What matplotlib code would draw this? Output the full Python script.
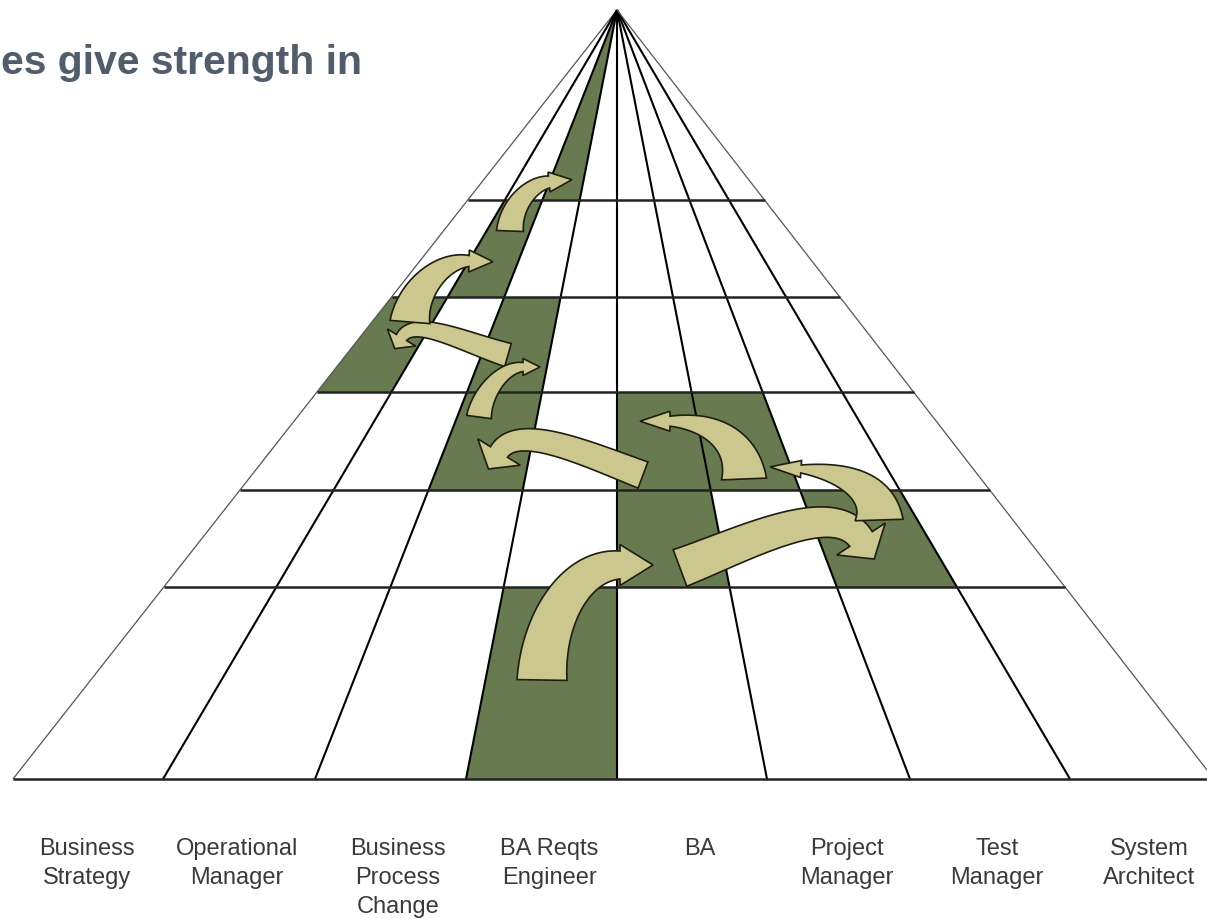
import numpy as np
import matplotlib
matplotlib.use("Agg")
import matplotlib.pyplot as plt
from matplotlib.patches import Polygon

# pyramid grid (pixel space, y down)
apex = (617, 10)
base_x = [13, 163, 315, 466, 617, 767, 910, 1070, 1214]
row_y = [10, 200, 297, 392, 490, 587, 779]

roles = ["Business\nStrategy", "Operational\nManager", "Business\nProcess\nChange",
         "BA Reqts\nEngineer", "BA", "Project\nManager", "Test\nManager", "System\nArchitect"]
role_x = [87, 237, 398, 549, 700, 847, 997, 1149]

# (row, column) cells filled green
shaded = [(0, 2), (1, 1), (2, 0), (2, 2), (3, 2), (3, 4), (3, 5), (4, 4), (4, 6), (5, 3)]

# career moves: tail, ctrl1, ctrl2, head base, tail width, shaft width at head, head width, head length
moves = [
    ((508, 355), (464.8, 342.6), (414.5, 316), (401.5, 337.5), 24, 12, 33, 13),
    ((410, 322), (412.6, 290), (441, 260.2), (469, 261), 40, 11, 22, 24),
    ((510, 231), (511, 205), (531.2, 183.8), (549, 182), 27, 12, 20, 23),
    ((479, 417), (482.3, 392.2), (503, 367), (523, 367), 25, 9, 17, 17),
    ((643, 475), (586.8, 453.9), (517.5, 422.2), (499, 452), 28, 20, 50, 20),
    ((744, 479), (742.6, 444), (715, 421.2), (670, 421.2), 45, 10, 20, 30),
    ((680, 568), (745.6, 543.5), (833.5, 497.2), (861, 539), 39, 27, 58, 24),
    ((879, 520), (878, 488), (845, 472), (801, 469), 48, 8, 17, 31),
    ((542, 680), (543, 620), (575, 565), (620, 565), 50, 28, 41, 33),
]

GREEN = "#687a50"
KHAKI = "#cbc78f"


def line_x(i, y):
    return apex[0] + (base_x[i] - apex[0]) * (y - apex[1]) / (row_y[-1] - apex[1])


def arrow_poly(p0, p1, p2, p3, w0, w1, hw, hl, n=80):
    p0, p1, p2, p3 = (np.array(p, float) for p in (p0, p1, p2, p3))
    t = np.linspace(0, 1, n)[:, None]
    P = (1 - t)**3 * p0 + 3 * (1 - t)**2 * t * p1 + 3 * (1 - t) * t**2 * p2 + t**3 * p3
    D = 3 * (1 - t)**2 * (p1 - p0) + 6 * (1 - t) * t * (p2 - p1) + 3 * t**2 * (p3 - p2)
    D = D / np.linalg.norm(D, axis=1)[:, None]
    N = np.column_stack([-D[:, 1], D[:, 0]])
    w = (w0 + (w1 - w0) * t) / 2
    left = P + N * w
    right = P - N * w
    tip = p3 + D[-1] * hl
    head = np.array([p3 + N[-1] * hw / 2, tip, p3 - N[-1] * hw / 2])
    return np.vstack([left, head, right[::-1]])


fig = plt.figure(figsize=(12.07, 9.19), dpi=100)
ax = fig.add_axes([0, 0, 1, 1])
ax.set_xlim(0, 1207)
ax.set_ylim(919, 0)
ax.axis("off")

for r, c in shaded:
    y0, y1 = row_y[r], row_y[r + 1]
    pts = [(line_x(c, y0), y0), (line_x(c + 1, y0), y0),
           (line_x(c + 1, y1), y1), (line_x(c, y1), y1)]
    ax.add_patch(Polygon(pts, closed=True, facecolor=GREEN, edgecolor="none", zorder=1))

# radial lines
for i in range(len(base_x)):
    outer = i in (0, len(base_x) - 1)
    ax.plot([apex[0], base_x[i]], [apex[1], row_y[-1]],
            color="#555555" if outer else "black",
            lw=0.9 if outer else 1.5, zorder=2, solid_capstyle="butt")

# level lines
for y in row_y[1:]:
    ax.plot([line_x(0, y), line_x(len(base_x) - 1, y)], [y, y],
            color="#222222", lw=1.8, zorder=2, solid_capstyle="butt")

for mv in moves:
    ax.add_patch(Polygon(arrow_poly(*mv), closed=True, facecolor=KHAKI,
                         edgecolor="#1e1e10", lw=1.2, joinstyle="miter", zorder=3))

for x, lab in zip(role_x, roles):
    ax.text(x, 838, lab, ha="center", va="top", fontsize=17, color="#3a3a3a",
            family="Liberation Sans", linespacing=1.42)

ax.text(1, 74, "es give strength in", ha="left", va="baseline", fontsize=29.5,
        fontweight="bold", color="#525d6b", family="Liberation Sans")

fig.savefig("out.png", dpi=100)
